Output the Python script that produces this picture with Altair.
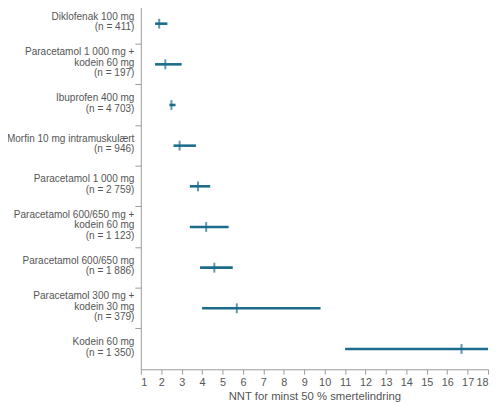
import altair as alt
import pandas as pd

drugs = [
    "Diklofenak 100 mg\n(n = 411)",
    "Paracetamol 1 000 mg +\nkodein 60 mg\n(n = 197)",
    "Ibuprofen 400 mg\n(n = 4 703)",
    "Morfin 10 mg intramuskulært\n(n = 946)",
    "Paracetamol 1 000 mg\n(n = 2 759)",
    "Paracetamol 600/650 mg +\nkodein 60 mg\n(n = 1 123)",
    "Paracetamol 600/650 mg\n(n = 1 886)",
    "Paracetamol 300 mg +\nkodein 30 mg\n(n = 379)",
    "Kodein 60 mg\n(n = 1 350)",
]
nnt = [1.9, 2.2, 2.5, 2.9, 3.8, 4.2, 4.6, 5.7, 16.7]
ci_low = [1.7, 1.7, 2.4, 2.6, 3.4, 3.4, 3.9, 4.0, 11.0]
ci_high = [2.3, 3.0, 2.7, 3.7, 4.4, 5.3, 5.5, 9.8, 18.0]

df = pd.DataFrame({"drug": drugs, "nnt": nnt, "lo": ci_low, "hi": ci_high})

BLUE = "#1d6b8c"
GREY = "#555555"
AXIS = "#9a9a9a"
FONT = "Liberation Sans"
LINE = 10.8

x_scale = alt.Scale(domain=[1, 18], nice=False, zero=False)
y_scale = alt.Scale(domain=drugs, paddingInner=0, paddingOuter=0)

x_axis = alt.Axis(
    values=list(range(1, 19)),
    grid=False,
    labelOverlap=False,
    labelFontSize=11,
    titleFontSize=11.5,
    titleFontWeight="normal",
    labelColor=GREY,
    titleColor=GREY,
    labelFont=FONT,
    titleFont=FONT,
    domainColor=AXIS,
    tickColor=AXIS,
    tickSize=5,
    labelPadding=2,
    titlePadding=4,
)

# multi-line labels are not centred by Vega, so lift them by half their extra lines
label_shift = {
    "condition": {
        "test": "length(split(datum.label, '\\n')) == 3",
        "value": -LINE - 1.5,
    },
    "value": -LINE / 2 - 1.5,
}

base = alt.Chart(df)

# first layer: axis with only the row separator ticks
ci = base.mark_rule(color=BLUE, strokeWidth=2.6).encode(
    x=alt.X("lo:Q", scale=x_scale, title="NNT for minst 50 % smertelindring", axis=x_axis),
    x2="hi:Q",
    y=alt.Y(
        "drug:N",
        scale=y_scale,
        sort=drugs,
        title=None,
        axis=alt.Axis(
            orient="left",
            labels=False,
            domainColor=AXIS,
            bandPosition=0,
            tickColor=AXIS,
            tickSize=6,
        ),
    ),
)

# second layer: axis with the drug labels
point = base.mark_tick(color=BLUE, thickness=2, size=10, orient="vertical").encode(
    x=alt.X("nnt:Q", scale=x_scale, title="NNT for minst 50 % smertelindring", axis=x_axis),
    y=alt.Y(
        "drug:N",
        scale=y_scale,
        sort=drugs,
        title=None,
        axis=alt.Axis(
            orient="left",
            labelExpr="split(datum.label, '\\n')",
            ticks=False,
            domain=False,
            labelFontSize=10.2,
            labelLineHeight=LINE,
            labelOffset=label_shift,
            labelColor=GREY,
            labelFont=FONT,
            labelPadding=7,
            labelLimit=200,
        ),
    ),
)

chart = (
    alt.layer(ci, point)
    .resolve_axis(y="independent")
    .properties(
        width=353,
        height=372,
        autosize=alt.AutoSizeParams(type="none"),
        padding={"left": 135, "top": -8, "right": 4, "bottom": 31},
    )
    .configure_view(stroke=None)
)

chart.save("out.html", embed_options={"renderer": "svg", "actions": False})
